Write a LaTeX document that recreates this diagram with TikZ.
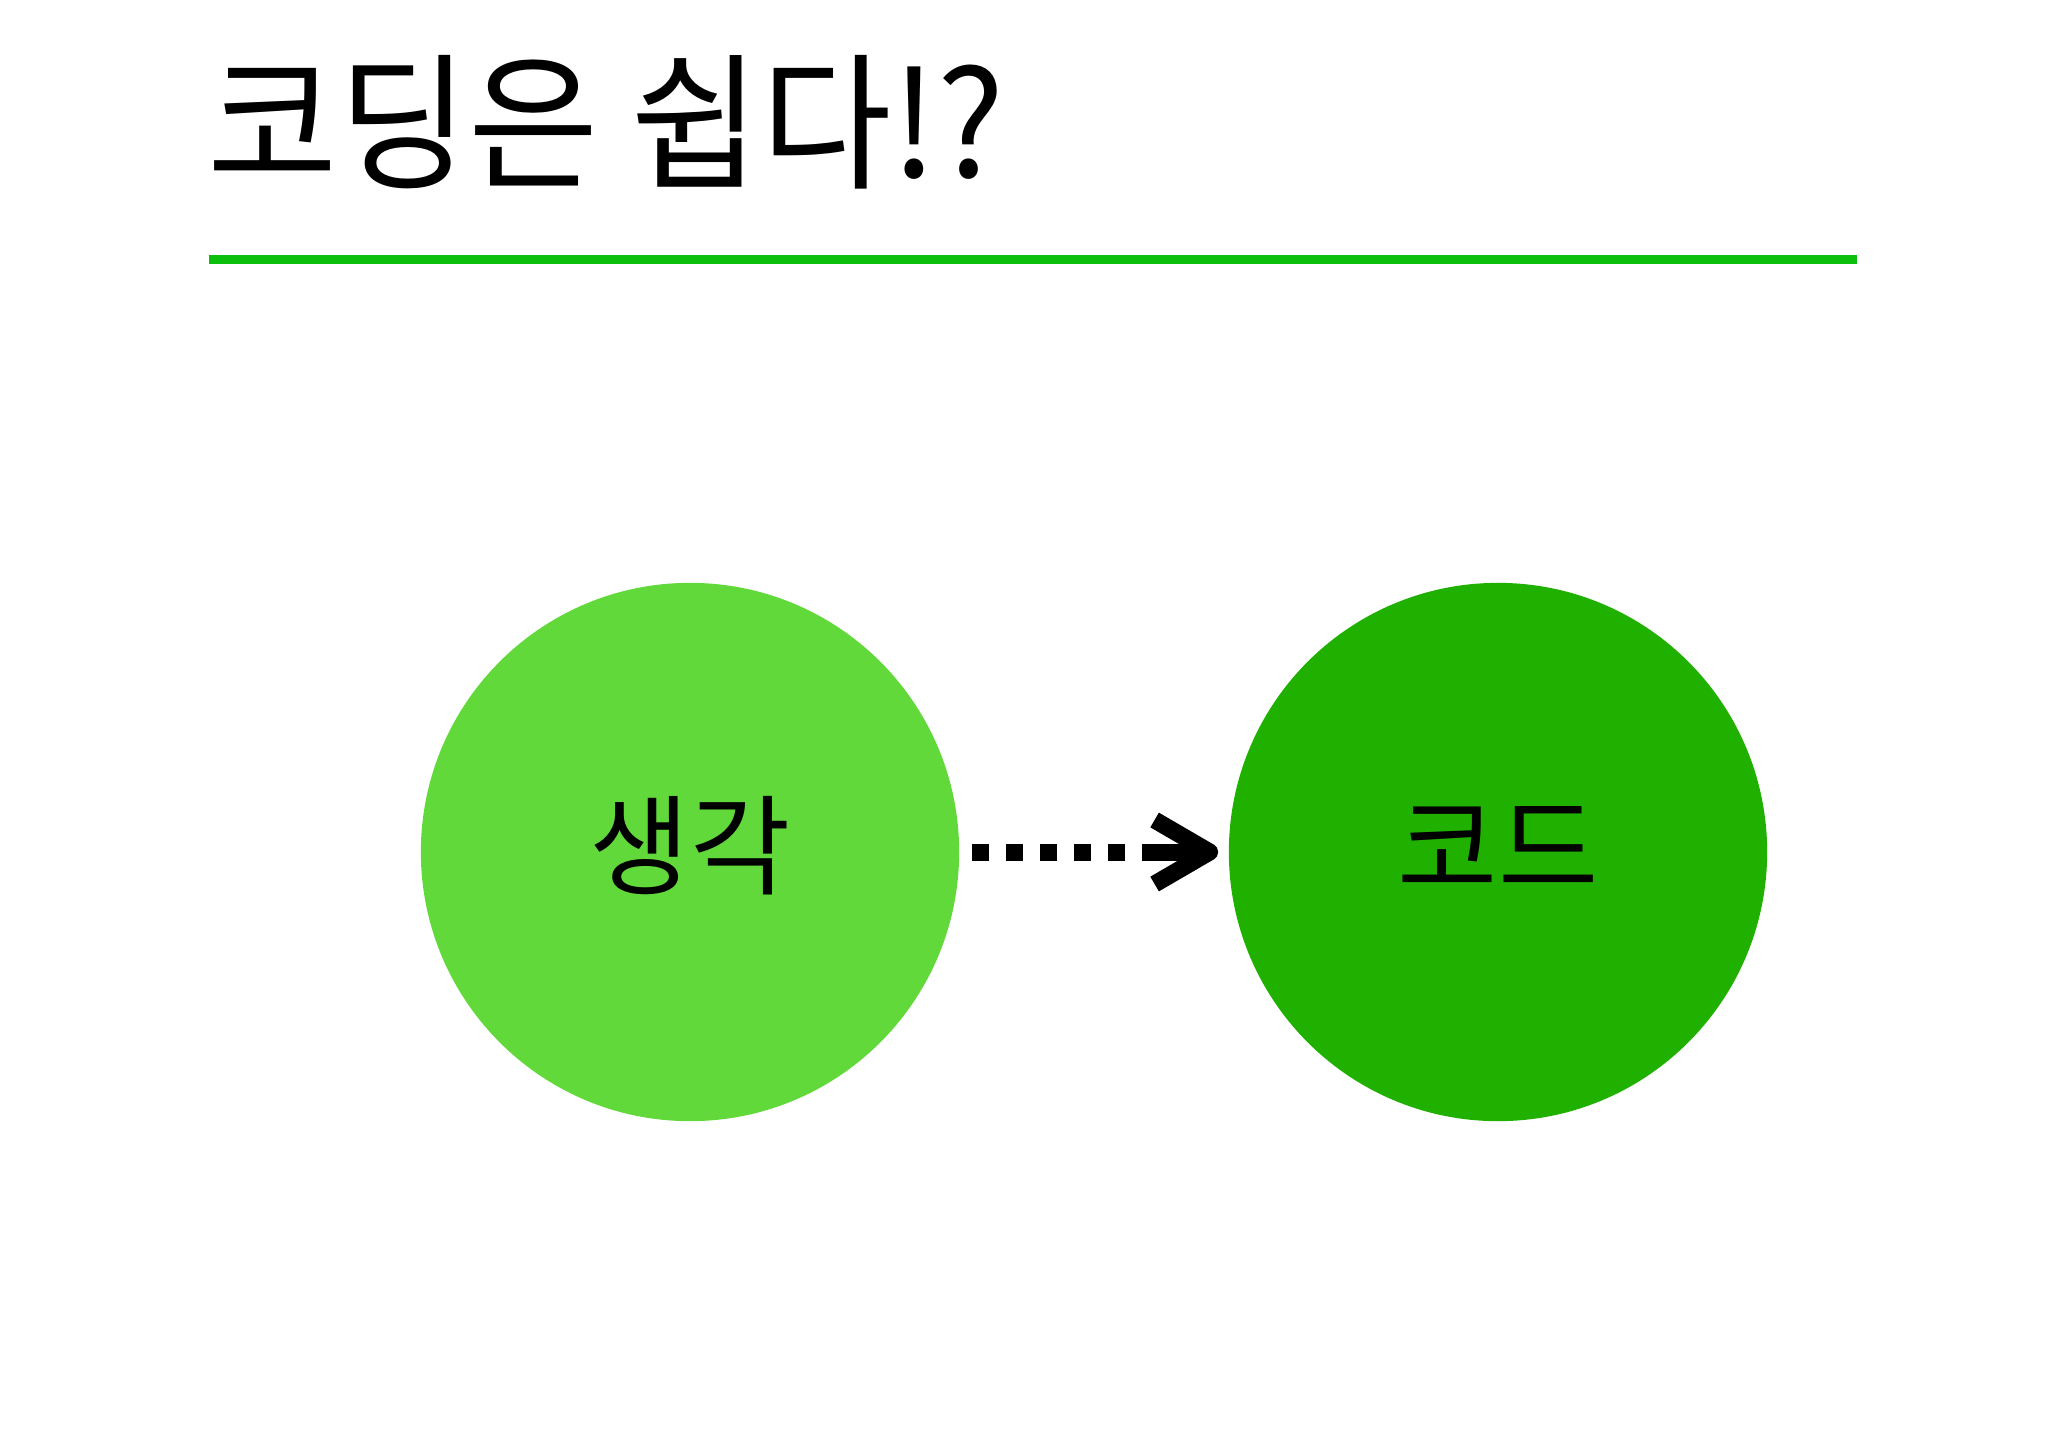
\documentclass[tikz,border=0pt]{standalone}
\usepackage{fontspec}
\newfontfamily\krfont{Noto Sans CJK KR}
\usetikzlibrary{arrows.meta}
\definecolor{lightg}{HTML}{62D93A}
\definecolor{darkg}{HTML}{20B000}
\definecolor{lineg}{HTML}{0CBF0C}
\tikzset{
  bubble/.style={circle, minimum size=5.38cm, inner sep=0pt, font=\krfont\fontsize{31}{34}\selectfont},
  flow/.style={line width=0.17cm, line cap=butt,
    dash pattern=on 0.17cm off 0.17cm on 0.17cm off 0.17cm on 0.17cm off 0.17cm on 0.17cm off 0.17cm on 0.17cm off 0.17cm on 3cm,
    -{Straight Barb[length=0.55cm,width=0.64cm,line cap=butt,line join=round]}},
  titletext/.style={anchor=base west, inner sep=0pt, font=\krfont\fontsize{42}{46}\selectfont}
}
\begin{document}
\begin{tikzpicture}[x=0.01cm,y=-0.01cm]
\useasboundingbox[fill=white] (0,0) rectangle (2048,1448);
\node[titletext] (title) at (207,177) {\scalebox{0.96}[1]{코딩은 쉽다!?}};
\coordinate (la) at (209,259);
\coordinate (lb) at (1857,259);
\draw[lineg, line width=0.09cm] (la) -- (lb);
\node[bubble, fill=lightg] (think) at (690,852) {\raisebox{0.22cm}{생각}};
\node[bubble, fill=darkg] (code) at (1498,852) {\raisebox{0.1cm}{코드}};
\draw[flow, shorten <=0.12cm, shorten >=0.1cm] (think.east) -- (code.west);
\end{tikzpicture}
\end{document}
